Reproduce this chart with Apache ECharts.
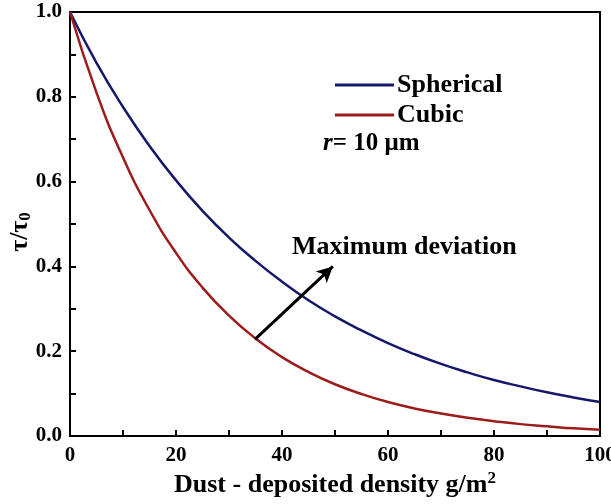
<!DOCTYPE html>
<html><head><meta charset="utf-8">
<script src="https://cdn.jsdelivr.net/npm/echarts@6/dist/echarts.min.js"></script>
<style>html,body{margin:0;padding:0;background:#fff}#c{width:611px;height:504px}</style>
</head><body><div id="c"></div>
<script>
const xValues = [0,5,10,15,20,25,30,35,40,45,50,55,60,65,70,75,80,85,90,95,100];
const spherical = [1.0,0.88,0.776,0.684,0.603,0.531,0.468,0.413,0.364,0.320,0.282,0.249,0.219,0.193,0.170,0.150,0.132,0.117,0.103,0.091,0.080];
const cubic = [1.0,0.81,0.657,0.533,0.432,0.35,0.284,0.23,0.186,0.151,0.122,0.099,0.080,0.065,0.053,0.043,0.035,0.028,0.023,0.018,0.015];
const seriesNames = ['Spherical','Cubic'];
const arrowStart = [34.9, 0.228];
const arrowEnd = [49.6, 0.40];

const FONT = '"Liberation Serif", "Times New Roman", serif';
const chart = echarts.init(document.getElementById('c'));
const pair = (xs, ys) => xs.map((x,i)=>[x, ys[i]]);
chart.setOption({
  animation:false,
  grid:{left:70,right:11,top:12,bottom:68,show:true,borderColor:'#000',borderWidth:2,
    containLabel:false,outerBoundsMode:'none'},
  xAxis:{type:'value',min:0,max:100,interval:20,
    axisLine:{lineStyle:{color:'#000',width:2}},
    axisTick:{inside:true,length:6,lineStyle:{color:'#000',width:2}},
    minorTick:{show:true,splitNumber:2,length:6,lineStyle:{color:'#000',width:2}},
    splitLine:{show:false},
    axisLabel:{color:'#000',fontFamily:FONT,fontWeight:'bold',fontSize:21,margin:9},
    name:'Dust - deposited density g/m{s|2}',nameLocation:'middle',nameGap:34,nameMoveOverlap:false,
    nameTextStyle:{color:'#000',fontFamily:FONT,fontWeight:'bold',fontSize:26,
      rich:{s:{fontFamily:FONT,fontWeight:'bold',fontSize:17,verticalAlign:'top',padding:[0,0,14,0]}}}
  },
  yAxis:{type:'value',min:0,max:1,interval:0.2,
    axisLine:{lineStyle:{color:'#000',width:2}},
    axisTick:{inside:true,length:6,lineStyle:{color:'#000',width:2}},
    minorTick:{show:true,splitNumber:2,length:6,lineStyle:{color:'#000',width:2}},
    splitLine:{show:false},
    axisLabel:{color:'#000',fontFamily:FONT,fontWeight:'bold',fontSize:21,margin:8,formatter:v=>v.toFixed(1)},
    name:'τ/τ{s|0}',nameLocation:'middle',nameGap:36,nameRotate:90,nameMoveOverlap:false,
    nameTextStyle:{color:'#000',fontFamily:FONT,fontWeight:'bold',fontSize:26,padding:[0,16,0,0],
      rich:{s:{fontFamily:FONT,fontWeight:'bold',fontSize:17,verticalAlign:'bottom',padding:[10,0,0,0]}}}
  },
  legend:{show:true,orient:'vertical',left:330,top:67,itemWidth:59,itemHeight:3,itemGap:4,
    icon:'rect',
    textStyle:{color:'#000',fontFamily:FONT,fontWeight:'bold',fontSize:26,padding:[0,0,0,-2]},
    data:seriesNames},
  series:[
    {name:seriesNames[0],type:'line',smooth:true,showSymbol:false,data:pair(xValues,spherical),
     color:'#15186a',lineStyle:{color:'#15186a',width:2.5}},
    {name:seriesNames[1],type:'line',smooth:true,showSymbol:false,data:pair(xValues,cubic),
     color:'#9a1c1c',lineStyle:{color:'#9a1c1c',width:2.5},
     markLine:{silent:true,symbol:['none','arrow'],symbolSize:[12,16],
       lineStyle:{color:'#000',width:3,type:'solid'},label:{show:false},
       data:[[{coord:arrowStart},{coord:arrowEnd}]]}}
  ],
  graphic:[
    {type:'text',left:292,top:234,style:{text:'Maximum deviation',fill:'#000',font:'bold 26px '+FONT}},
    {type:'text',left:323,top:131,style:{text:'{i|r}= 10 μm',fill:'#000',font:'bold 25px '+FONT,
      rich:{i:{fontStyle:'italic',fontWeight:'bold',fontSize:25,fontFamily:FONT}}}}
  ]
});
</script></body></html>
